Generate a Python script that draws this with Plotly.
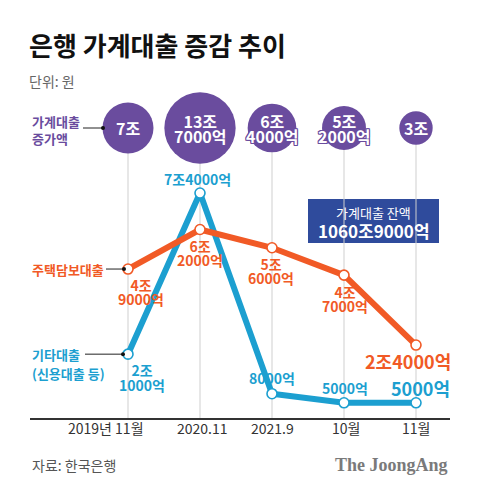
import math
import plotly.graph_objects as go

# ---------------- data ----------------
months = ["2019년 11월", "2020.11", "2021.9", "10월", "11월"]
household_increase = [7.0, 13.7, 6.4, 5.2, 3.0]          # 가계대출 증가액 (조원)
household_increase_text = [["7조"], ["13조", "7000억"], ["6조", "4000억"], ["5조", "2000억"], ["3조"]]
mortgage = [4.9, 6.2, 5.6, 4.7, 2.4]                      # 주택담보대출 (조원)
mortgage_text = [["4조", "9000억"], ["6조", "2000억"], ["5조", "6000억"], ["4조", "7000억"], ["2조4000억"]]
other_loans = [2.1, 7.4, 0.8, 0.5, 0.5]                   # 기타대출 (조원)
other_loans_text = [["2조", "1000억"], ["7조4000억"], ["8000억"], ["5000억"], ["5000억"]]
balance_title = "가계대출 잔액"
balance_value = "1060조9000억"

title = "은행 가계대출 증감 추이"
unit = "단위: 원"
source = "자료: 한국은행"
brand = "The JoongAng"

# ---------------- style / layout ----------------
W, H = 480, 492
ML, MR, MT, MB = 30, 30, 0, 74
X0_PX, X_STEP = 128, 72
Y_UNIT = 30.4
PLOT_W, PLOT_H = W - ML - MR, H - MT - MB
FONT = "Noto Sans CJK KR"
ORANGE = "#F15A26"
BLUE = "#1C9FD0"
PURPLE = "#6A4C9E"
NAVY = "#2F4B9C"
GRID = "#CFCFCF"

BUBBLE_ROW = (PLOT_H - 128) / Y_UNIT
idx = list(range(len(months)))


def px_x(p):
    return (p - ML) / PLOT_W


def px_y(p):
    return (H - MB - p) / PLOT_H


fig = go.Figure()

# vertical guide lines from bubble row down to baseline
gx, gy = [], []
for i in idx:
    gx += [i, i, None]
    gy += [BUBBLE_ROW, 0, None]
fig.add_trace(go.Scatter(x=gx, y=gy, mode="lines", line=dict(color=GRID, width=1),
                         hoverinfo="skip", showlegend=False))

# bubbles (area proportional)
diam_per_sqrt = 19.27
fig.add_trace(go.Scatter(
    x=idx, y=[BUBBLE_ROW] * len(idx), mode="markers",
    marker=dict(size=[diam_per_sqrt * math.sqrt(v) for v in household_increase],
                sizemode="diameter", color=PURPLE, opacity=1, line=dict(width=0)),
    hoverinfo="skip", showlegend=False))

# lines
fig.add_trace(go.Scatter(x=idx, y=other_loans, mode="lines+markers",
                         line=dict(color=BLUE, width=6),
                         marker=dict(size=10, color="white", opacity=1, line=dict(color=BLUE, width=1.6)),
                         showlegend=False, hoverinfo="skip"))
fig.add_trace(go.Scatter(x=idx, y=mortgage, mode="lines+markers",
                         line=dict(color=ORANGE, width=6),
                         marker=dict(size=10, color="white", opacity=1, line=dict(color=ORANGE, width=1.6)),
                         showlegend=False, hoverinfo="skip"))

ann = []


def add_text(text, x, y, size, color, xref="paper", yref="paper",
             xanchor="center", yanchor="middle", xshift=0, yshift=0, family=FONT,
             shadow=None, align="center"):
    f = dict(family=family, size=size, color=color)
    if shadow:
        f["shadow"] = shadow
    ann.append(dict(text=text, x=x, y=y, xref=xref, yref=yref, align=align,
                    showarrow=False, font=f, xanchor=xanchor, yanchor=yanchor,
                    xshift=xshift, yshift=yshift))


def block(lines, x, y, dx, dy, size, color, gap, xref="x", yref="y", bold=True,
          shadow=None, xanchor="center", align="center"):
    # one annotation; line spacing set by the base font size (1.3 em), text drawn at `size`
    base = gap / 1.3
    w = "font-weight:bold;" if bold else ""
    txt = "<br>".join('<span style="font-size:%gpx;%s">%s</span>' % (size, w, t) for t in lines)
    add_text(txt, x, y, base, color, xref=xref, yref=yref, xshift=dx, yshift=-dy,
             shadow=shadow, xanchor=xanchor, align=align)


# bubble texts
outline = ", ".join("%dpx %dpx 0 %s" % (a, b, PURPLE) for a in (-1, 0, 1) for b in (-1, 0, 1) if a or b)
for i in idx:
    block(household_increase_text[i], i, BUBBLE_ROW, 0, 0, 16, "white", 15, shadow=outline)

# mortgage labels
m_off = [(13, 22.5), (0, 23.5), (-1, 23.5), (1, 24), (-8.5, 16)]
for i in idx:
    size = 18 if i == len(idx) - 1 else 14
    block(mortgage_text[i], i, mortgage[i], m_off[i][0], m_off[i][1], size, ORANGE, 13.5)

# other loans labels
o_off = [(13.7, 23.5), (-2.5, -14), (-0.3, -16), (1, -15), (4, -15)]
for i in idx:
    size = 18 if i == len(idx) - 1 else 14
    block(other_loans_text[i], i, other_loans[i], o_off[i][0], o_off[i][1], size, BLUE, 14.5)

# x labels
x_shift = [-22, 2, 0, 2, 0]
for i in idx:
    add_text(months[i], i, px_y(428), 14, "#333333", xref="x", yref="paper", xshift=x_shift[i])

# series names
block(["가계대출", "증가액"], px_x(30), px_y(130), 0, 0, 13, PURPLE, 17,
      xref="paper", yref="paper", xanchor="left", align="left")
add_text("<b>주택담보대출</b>", px_x(30), mortgage[0], 13, ORANGE, yref="y", xanchor="left")
block(["기타대출", "(신용대출 등)"], px_x(30), other_loans[0], 0, 9.5, 13, BLUE, 19,
      xref="paper", yref="y", xanchor="left", align="left")

# title etc.
add_text("<b>" + title + "</b>", px_x(27), px_y(44), 26, "#111111", xanchor="left")
add_text(unit, px_x(27), px_y(81), 14, "#666666", xanchor="left")
add_text(source, px_x(30), px_y(465), 14, "#555555", xanchor="left")
add_text("<b>" + brand + "</b>", px_x(450), px_y(465), 18, "#7A7A7A", xanchor="right",
         family="Liberation Serif")

# balance box
bx0, bx1, by0, by1 = 308, 439, 199, 243
add_text(balance_title, px_x((bx0 + bx1) / 2), px_y(212), 13, "white")
add_text("<b>" + balance_value + "</b>", px_x((bx0 + bx1) / 2), px_y(231), 17, "white")

shapes = [
    dict(type="rect", xref="paper", yref="paper", x0=px_x(bx0), x1=px_x(bx1),
         y0=px_y(by1), y1=px_y(by0), fillcolor=NAVY, line=dict(width=0), layer="below"),
    # leaders
    dict(type="line", xref="paper", yref="paper", x0=px_x(83), x1=px_x(103),
         y0=px_y(128), y1=px_y(128), line=dict(color="#222", width=1)),
    dict(type="circle", xref="paper", yref="paper", x0=px_x(101), x1=px_x(105),
         y0=px_y(126), y1=px_y(130), fillcolor="#111", line=dict(width=0)),
    dict(type="line", xref="x", yref="y", xsizemode="pixel", xanchor=0, x0=-22, x1=-4,
         ysizemode="pixel", yanchor=mortgage[0], y0=0, y1=0, line=dict(color="#222", width=1)),
    dict(type="circle", xref="x", yref="y", xsizemode="pixel", xanchor=0, x0=-6, x1=-2,
         ysizemode="pixel", yanchor=mortgage[0], y0=-2, y1=2, fillcolor="#111", line=dict(width=0)),
    dict(type="line", xref="x", yref="y", xsizemode="pixel", xanchor=0, x0=-43, x1=-5,
         ysizemode="pixel", yanchor=other_loans[0], y0=0, y1=0, line=dict(color="#222", width=1)),
    dict(type="circle", xref="x", yref="y", xsizemode="pixel", xanchor=0, x0=-7, x1=-3,
         ysizemode="pixel", yanchor=other_loans[0], y0=-2, y1=2, fillcolor="#111", line=dict(width=0)),
]

fig.update_layout(
    width=W, height=H, margin=dict(l=ML, r=MR, t=MT, b=MB, autoexpand=False),
    paper_bgcolor="white", plot_bgcolor="white",
    xaxis=dict(range=[(ML - X0_PX) / X_STEP, (W - MR - X0_PX) / X_STEP], showgrid=False,
               zeroline=False, showticklabels=False, ticks="", showline=True,
               linecolor="#333333", linewidth=1.5, fixedrange=True),
    yaxis=dict(range=[0, PLOT_H / Y_UNIT], showgrid=False, zeroline=False,
               showticklabels=False, ticks="", showline=False, fixedrange=True),
    annotations=ann, shapes=shapes, showlegend=False,
    font=dict(family=FONT),
)

fig.write_html("out.html", post_script="document.body.style.margin='0';",
               config={"displayModeBar": False})
